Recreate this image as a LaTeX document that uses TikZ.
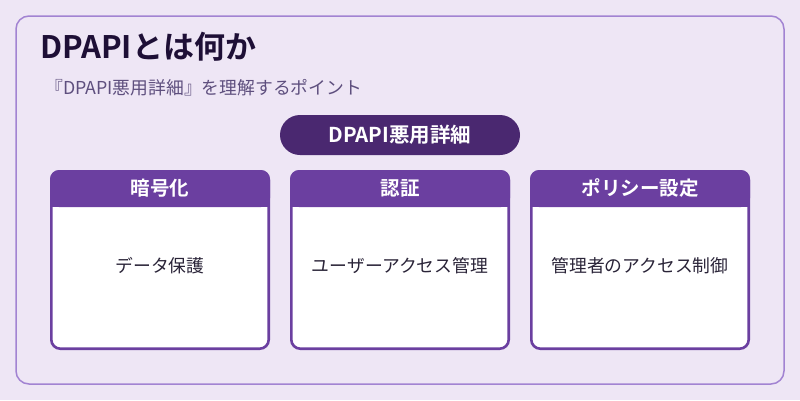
\documentclass[tikz,border=0pt]{standalone}
\usepackage{fontspec}
\setmainfont{Noto Sans CJK JP}
\newfontfamily\jpbold{Noto Sans CJK JP Bold}
\definecolor{bgc}{HTML}{EEE6F5}
\definecolor{framec}{HTML}{A283D2}
\definecolor{titlec}{HTML}{1E0F36}
\definecolor{subc}{HTML}{5E4F7E}
\definecolor{pillc}{HTML}{4A2870}
\definecolor{cardc}{HTML}{6B3FA0}
\definecolor{bodyc}{HTML}{2A2438}
\tikzset{
  cardbox/.style={draw=cardc, line width=2.6pt, fill=white, rounded corners=9pt},
  cardhead/.style={font=\jpbold\fontsize{19.5}{22}\selectfont, text=white},
  cardtext/.style={font=\fontsize{17.8}{20}\selectfont, text=bodyc},
}
\begin{document}
\begin{tikzpicture}[x=1pt,y=-1pt]
\useasboundingbox (0,0) rectangle (800,400);
\fill[bgc] (0,0) rectangle (800,400);
\draw[framec, line width=1.5pt, rounded corners=13pt] (16,16) rectangle (784,384);
\node[anchor=west, font=\jpbold\fontsize{31}{34}\selectfont, text=titlec, inner sep=0] (title) at (40,47) {DPAPIとは何か};
\node[anchor=west, font=\fontsize{17.8}{20}\selectfont, text=subc, inner sep=0] (sub) at (45,88) {『DPAPI悪用詳細』を理解するポイント};
\fill[pillc, rounded corners=20pt] (280,115) rectangle (520,155);
\node[font=\jpbold\fontsize{20.5}{22}\selectfont, text=white] (pill) at (400,134.5) {DPAPI悪用詳細};
\foreach \x/\h/\b/\n in {50/暗号化/データ保護/a, 290/認証/ユーザーアクセス管理/b, 530/ポリシー設定/管理者のアクセス制御/c}{
  \draw[cardbox] (\x+1.3,171.3) rectangle (\x+218.7,348.7);
  \fill[cardc, rounded corners=9pt] (\x,170) -- (\x+220,170) -- (\x+220,207) -- (\x,207) -- cycle;
  \fill[cardc] (\x,195) rectangle (\x+220,207);
  \node[cardhead] (h\n) at (\x+110,188) {\h};
  \node[cardtext] (t\n) at (\x+110,266) {\b};
}
\end{tikzpicture}
\end{document}
